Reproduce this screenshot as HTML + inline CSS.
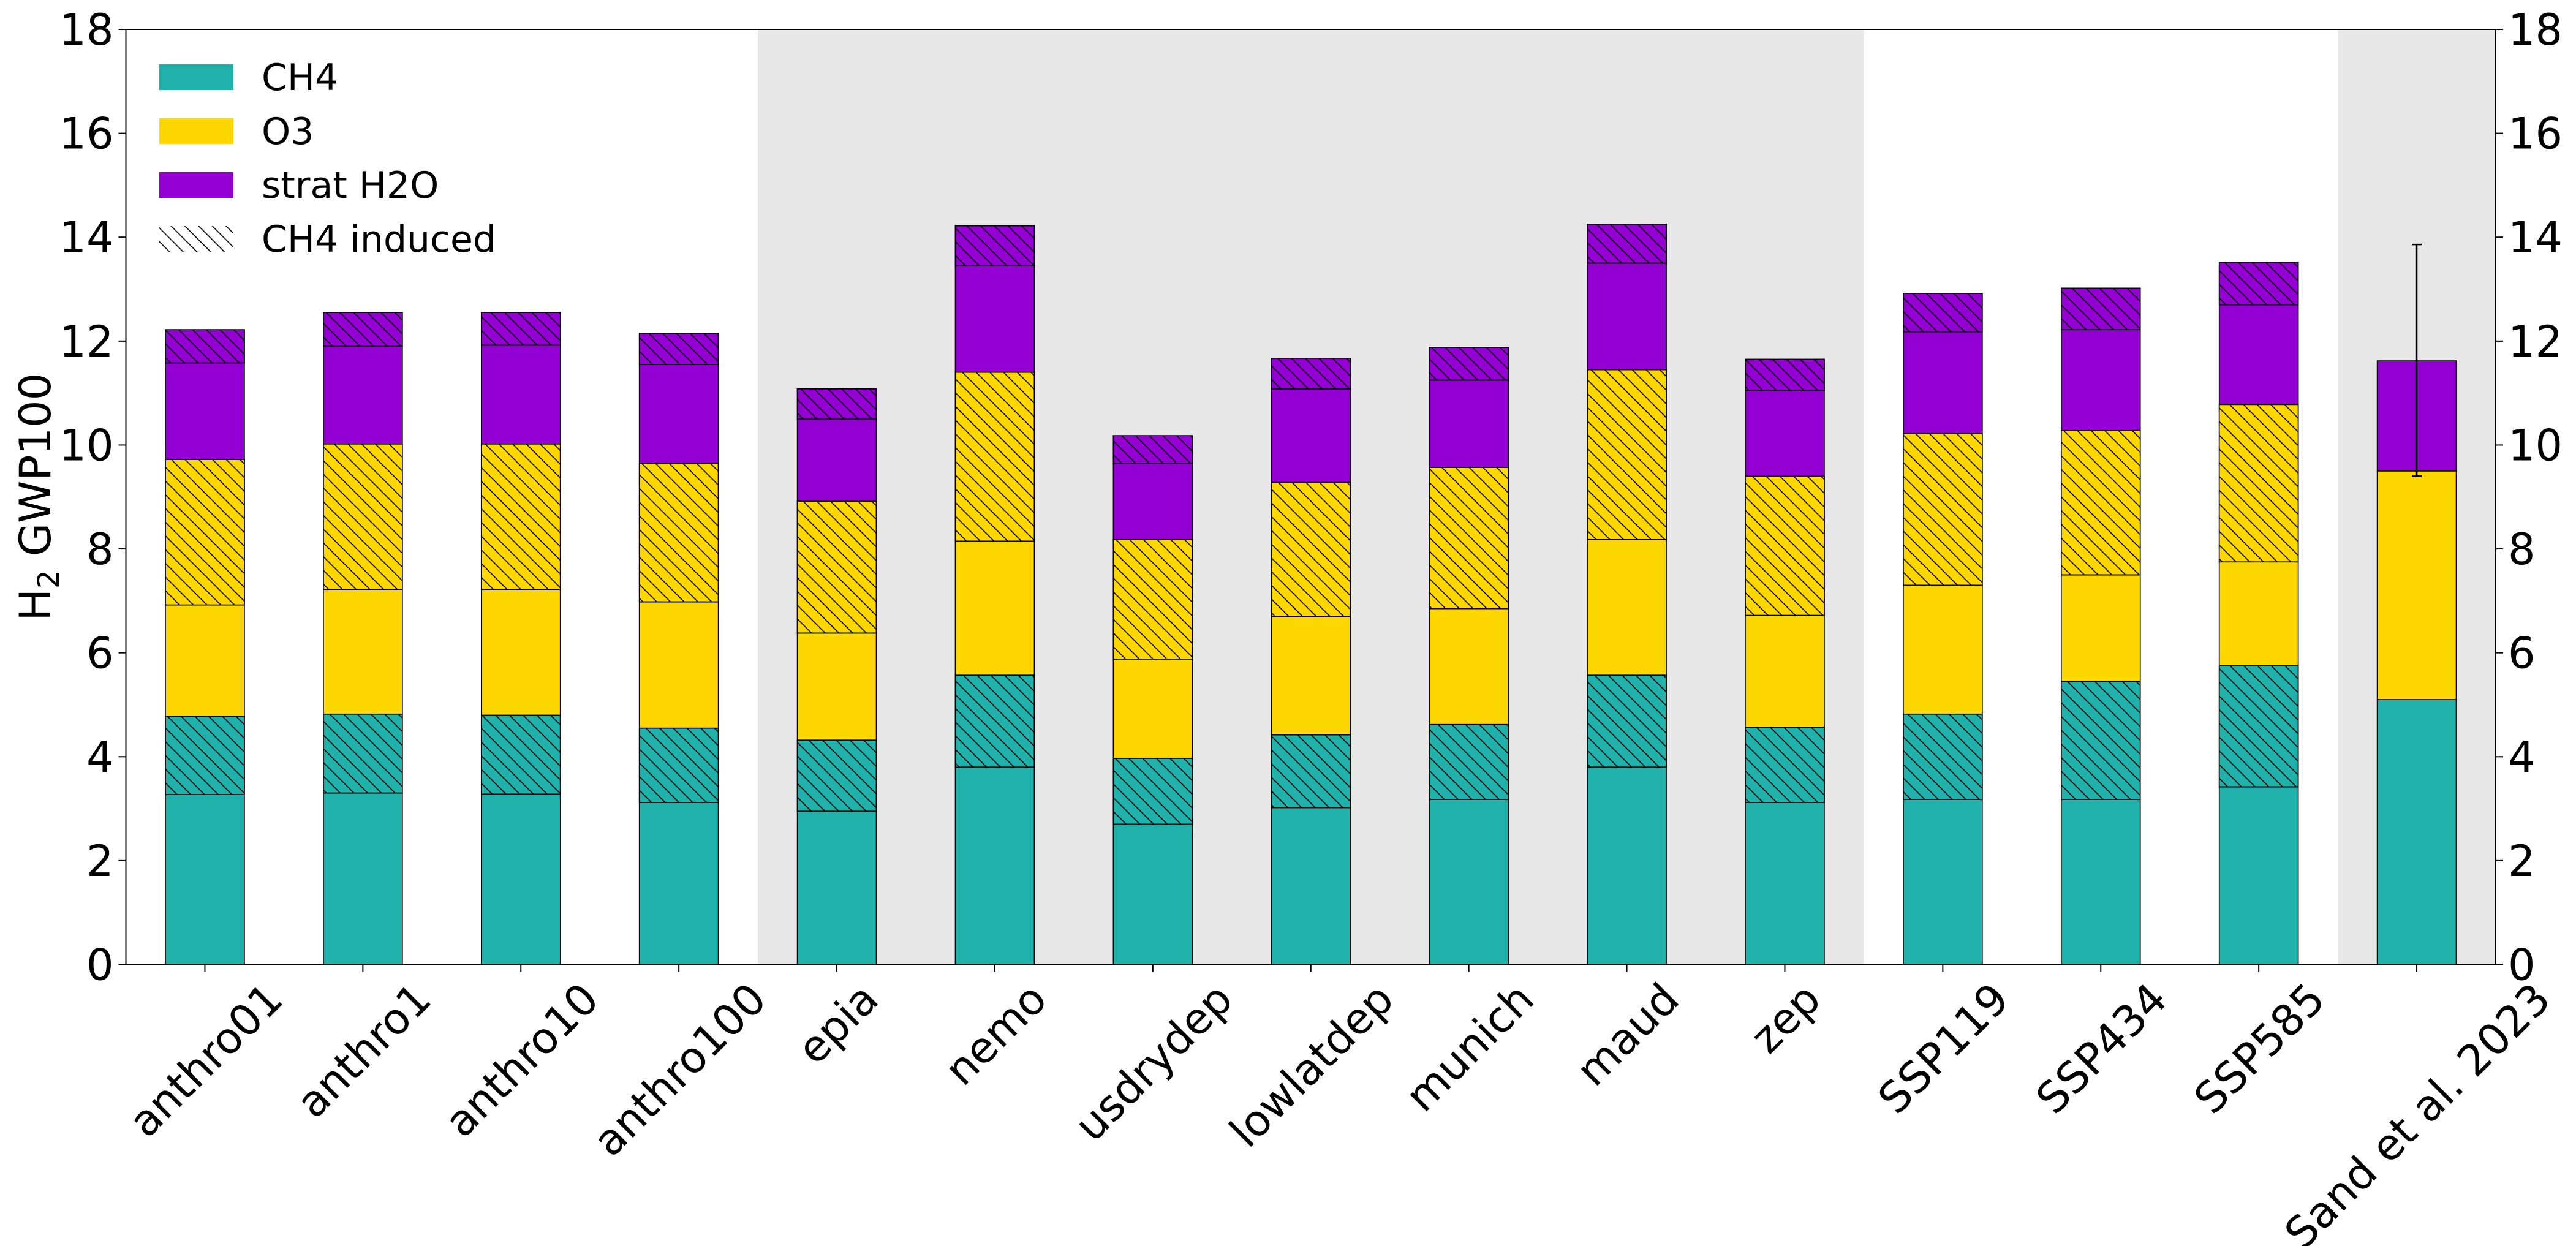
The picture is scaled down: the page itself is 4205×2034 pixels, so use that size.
<!DOCTYPE html>
<html><head><meta charset="utf-8">
<style>
html,body{margin:0;padding:0;background:#fff;}
svg{display:block;font-family:"DejaVu Sans","Liberation Sans",sans-serif;}
</style></head>
<body>
<svg id="chart" width="4205" height="2034" viewBox="0 0 4205 2034" xmlns="http://www.w3.org/2000/svg">
<defs>
<pattern id="hatch" patternUnits="userSpaceOnUse" width="22.4" height="22.4">
<path d="M-5.6,-5.6 L28,28 M-5.6,16.8 L5.6,28 M16.8,-5.6 L28,5.6" stroke="#000" stroke-width="1.6"/>
</pattern>
</defs>
<g id="bands"></g>
<g id="bars"></g>
<g id="axes"></g>
</svg>
<script>
const categories=["anthro01","anthro1","anthro10","anthro100","epia","nemo","usdrydep","lowlatdep","munich","maud","zep","SSP119","SSP434","SSP585","Sand et al. 2023"];
const ch4Direct=[3.27,3.30,3.28,3.12,2.95,3.80,2.70,3.02,3.18,3.80,3.12,3.18,3.18,3.42,5.10];
const ch4Induced=[1.51,1.52,1.52,1.43,1.37,1.77,1.27,1.40,1.44,1.77,1.45,1.64,2.27,2.33,0];
const o3Direct=[2.14,2.40,2.42,2.43,2.06,2.58,1.91,2.28,2.23,2.61,2.15,2.48,2.05,2.00,4.40];
const o3Induced=[2.80,2.80,2.80,2.67,2.54,3.25,2.30,2.58,2.72,3.27,2.68,2.92,2.78,3.03,0];
const h2oDirect=[1.86,1.88,1.90,1.90,1.58,2.05,1.47,1.80,1.68,2.05,1.65,1.96,1.94,1.92,2.12];
const h2oInduced=[0.64,0.65,0.63,0.60,0.58,0.77,0.53,0.59,0.63,0.75,0.60,0.74,0.80,0.82,0];
const errLow=[9.40];
const errHigh=[13.86];
const errIndex=[14];
const shadedRanges=[[4,10],[14,14]];
const yTicks=[0,2,4,6,8,10,12,14,16,18];

const NS="http://www.w3.org/2000/svg";
const L=205.5,R=4074,T=48,B=1574.5;
const yMax=18;
const n=categories.length;
const step=(R-L)/n;
function xc(i){return L+step*(i+0.5);}
function yv(v){return B-(B-T)*v/yMax;}
const barW=step*0.5;
function mk(tag,attrs,parent){const e=document.createElementNS(NS,tag);for(const k in attrs)e.setAttribute(k,attrs[k]);parent.appendChild(e);return e;}

const bands=document.getElementById('bands');
shadedRanges.forEach((r,k)=>{
  const x0=xc(r[0])-step/2,x1=xc(r[1])+step/2;
  const e=mk('rect',{x:x0,y:T,width:x1-x0,height:B-T,fill:'#e8e8e8'},bands);
  
  
});

const bars=document.getElementById('bars');
const series=[
 {vals:ch4Direct,color:'#20b2aa',hatch:false,name:'ch4'},
 {vals:ch4Induced,color:'#20b2aa',hatch:true,name:'ch4-induced'},
 {vals:o3Direct,color:'#ffd700',hatch:false,name:'o3'},
 {vals:o3Induced,color:'#ffd700',hatch:true,name:'o3-induced'},
 {vals:h2oDirect,color:'#9400d3',hatch:false,name:'strat-h2o'},
 {vals:h2oInduced,color:'#9400d3',hatch:true,name:'strat-h2o-induced'}];
for(let i=0;i<n;i++){
  let base=0;
  series.forEach(s=>{
    const v=s.vals[i];
    if(v<=0)return;
    const y0=yv(base),y1=yv(base+v);
    const r=mk('rect',{x:xc(i)-barW/2,y:y1,width:barW,height:y0-y1,fill:s.color,stroke:'#000','stroke-width':1.6},bars);
    
    
    if(s.hatch){
      const h=mk('rect',{x:xc(i)-barW/2,y:y1,width:barW,height:y0-y1,fill:'url(#hatch)',stroke:'#000','stroke-width':1.6},bars);
      
      
    }
    base+=v;
  });
}
errIndex.forEach((idx,k)=>{
  const x=xc(idx),ya=yv(errLow[k]),yb=yv(errHigh[k]);
  const g=mk('g',{stroke:'#000','stroke-width':2.5},bars);
  
  
  mk('line',{x1:x,y1:ya,x2:x,y2:yb},g);
  mk('line',{x1:x-8,y1:ya,x2:x+8,y2:ya},g);
  mk('line',{x1:x-8,y1:yb,x2:x+8,y2:yb},g);
});

const axes=document.getElementById('axes');
const frame=mk('rect',{x:L,y:T,width:R-L,height:B-T,fill:'none',stroke:'#000','stroke-width':2},axes);


yTicks.forEach(t=>{
  const y=yv(t);
  mk('line',{x1:L-12,y1:y,x2:L,y2:y,stroke:'#000','stroke-width':2},axes);
  mk('line',{x1:R,y1:y,x2:R+12,y2:y,stroke:'#000','stroke-width':2},axes);
  const a=mk('text',{x:L-20,y:y+25,'text-anchor':'end','font-size':70},axes);
  a.textContent=t;
  
  
  const b=mk('text',{x:R+20,y:y+25,'text-anchor':'start','font-size':70},axes);
  b.textContent=t;
  
  
});
categories.forEach((c,i)=>{
  const x=xc(i);
  mk('line',{x1:x,y1:B,x2:x,y2:B+12,stroke:'#000','stroke-width':2},axes);
  const t=mk('text',{'text-anchor':'middle','font-size':70},axes);
  t.textContent=c;
  
  
  const w=t.getComputedTextLength();
  const fh=52;
  const half=(w+fh)*0.7071/2;
  const cy=B+24+half;
  t.setAttribute('transform','translate('+x+','+cy+') rotate(-45) translate(0,'+(fh/2)+')');
});
const yl=mk('text',{transform:'translate(82,'+((T+B)/2)+') rotate(-90)','text-anchor':'middle','font-size':70},axes);
yl.innerHTML='H<tspan font-size="48" dy="14">2</tspan><tspan dy="-14"> GWP100</tspan>';



const leg=mk('g',{},axes);


const legItems=[['CH4','#20b2aa',false],['O3','#ffd700',false],['strat H2O','#9400d3',false],['CH4 induced','none',true]];
legItems.forEach((it,k)=>{
  const cy=126+88*k;
  const g=mk('g',{},leg);
  
  
  mk('rect',{x:260,y:cy-21,width:121,height:42,fill:it[2]?'url(#hatch)':it[1]},g);
  const tx=mk('text',{x:427,y:cy+21,'font-size':60},g);
  tx.textContent=it[0];
});
</script>
</body></html>
